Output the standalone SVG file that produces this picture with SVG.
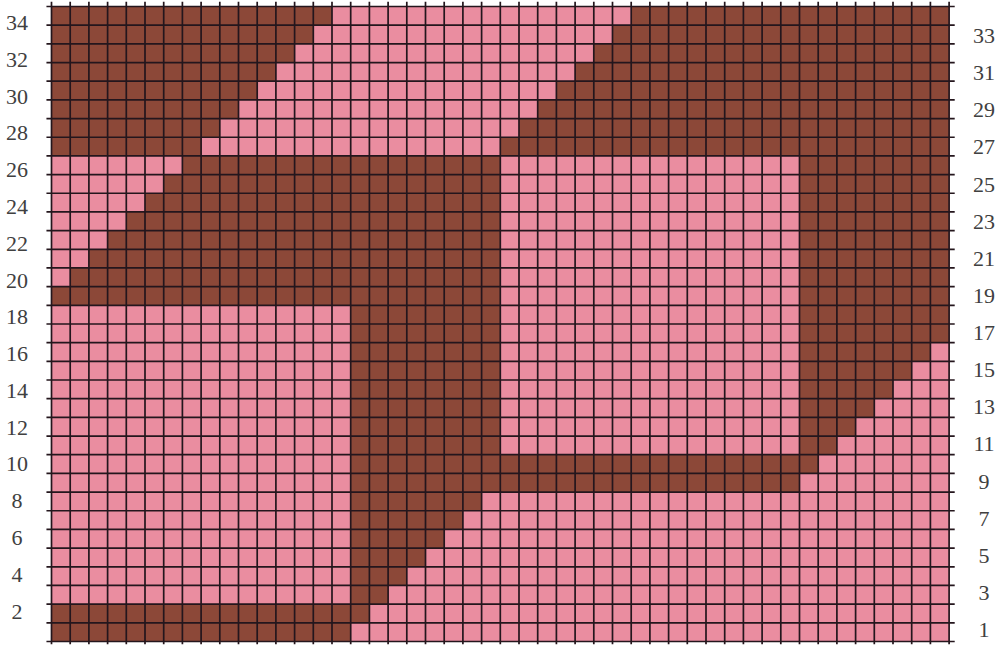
<svg xmlns="http://www.w3.org/2000/svg" width="1000" height="647" viewBox="0 0 1000 647">
<style>
.pink{fill:#EA8DA0}
.dark{fill:#8C4838}
.grid{fill:none;stroke:#24161d;stroke-width:1.7;vector-effect:non-scaling-stroke}
.lbl{font-family:"Liberation Serif","DejaVu Serif",serif;font-size:22px;fill:#404040;text-anchor:middle}
</style>
<rect width="1000" height="647" fill="#ffffff"/>
<g id="chart" transform="translate(51.5,6.5) scale(18.7,18.676)">
<rect id="background" class="pink" x="0" y="0" width="48" height="34"/>
<polygon id="top-left" class="dark" points="0,0 15,0 15,1 14,1 14,2 13,2 13,3 12,3 12,4 11,4 11,5 10,5 10,6 9,6 9,7 8,7 8,8 0,8"/>
<polygon id="middle" class="dark" points="7,8 24,8 24,24 40,24 40,26 23,26 23,27 22,27 22,28 21,28 21,29 20,29 20,30 19,30 19,31 18,31 18,32 17,32 17,33 16,33 16,34 0,34 0,32 16,32 16,16 0,16 0,15 1,15 1,14 2,14 2,13 3,13 3,12 4,12 4,11 5,11 5,10 6,10 6,9 7,9"/>
<polygon id="top-right" class="dark" points="31,0 48,0 48,18 47,18 47,19 46,19 46,20 45,20 45,21 44,21 44,22 43,22 43,23 42,23 42,24 41,24 41,25 40,25 40,8 24,8 24,7 25,7 25,6 26,6 26,5 27,5 27,4 28,4 28,3 29,3 29,2 30,2 30,1 31,1"/>
<path id="grid-v" class="grid" d="M0-.25V34.15M1-.25V34.15M2-.25V34.15M3-.25V34.15M4-.25V34.15M5-.25V34.15M6-.25V34.15M7-.25V34.15M8-.25V34.15M9-.25V34.15M10-.25V34.15M11-.25V34.15M12-.25V34.15M13-.25V34.15M14-.25V34.15M15-.25V34.15M16-.25V34.15M17-.25V34.15M18-.25V34.15M19-.25V34.15M20-.25V34.15M21-.25V34.15M22-.25V34.15M23-.25V34.15M24-.25V34.15M25-.25V34.15M26-.25V34.15M27-.25V34.15M28-.25V34.15M29-.25V34.15M30-.25V34.15M31-.25V34.15M32-.25V34.15M33-.25V34.15M34-.25V34.15M35-.25V34.15M36-.25V34.15M37-.25V34.15M38-.25V34.15M39-.25V34.15M40-.25V34.15M41-.25V34.15M42-.25V34.15M43-.25V34.15M44-.25V34.15M45-.25V34.15M46-.25V34.15M47-.25V34.15M48-.25V34.15"/>
<path id="grid-h" class="grid" d="M-.27 0H48.3M-.27 1H48.3M-.27 2H48.3M-.27 3H48.3M-.27 4H48.3M-.27 5H48.3M-.27 6H48.3M-.27 7H48.3M-.27 8H48.3M-.27 9H48.3M-.27 10H48.3M-.27 11H48.3M-.27 12H48.3M-.27 13H48.3M-.27 14H48.3M-.27 15H48.3M-.27 16H48.3M-.27 17H48.3M-.27 18H48.3M-.27 19H48.3M-.27 20H48.3M-.27 21H48.3M-.27 22H48.3M-.27 23H48.3M-.27 24H48.3M-.27 25H48.3M-.27 26H48.3M-.27 27H48.3M-.27 28H48.3M-.27 29H48.3M-.27 30H48.3M-.27 31H48.3M-.27 32H48.3M-.27 33H48.3M-.27 34H48.3"/>
</g>
<g id="labels-left">
<text class="lbl" x="17" y="30">34</text>
<text class="lbl" x="17" y="66.8">32</text>
<text class="lbl" x="17" y="103.6">30</text>
<text class="lbl" x="17" y="140.4">28</text>
<text class="lbl" x="17" y="177.1">26</text>
<text class="lbl" x="17" y="213.9">24</text>
<text class="lbl" x="17" y="250.7">22</text>
<text class="lbl" x="17" y="287.5">20</text>
<text class="lbl" x="17" y="324.3">18</text>
<text class="lbl" x="17" y="361">16</text>
<text class="lbl" x="17" y="397.8">14</text>
<text class="lbl" x="17" y="434.6">12</text>
<text class="lbl" x="17" y="471.4">10</text>
<text class="lbl" x="17" y="508.2">8</text>
<text class="lbl" x="17" y="544.9">6</text>
<text class="lbl" x="17" y="581.7">4</text>
<text class="lbl" x="17" y="618.5">2</text>
</g>
<g id="labels-right">
<text class="lbl" x="984" y="43.1">33</text>
<text class="lbl" x="984" y="80.2">31</text>
<text class="lbl" x="984" y="117.3">29</text>
<text class="lbl" x="984" y="154.4">27</text>
<text class="lbl" x="984" y="191.6">25</text>
<text class="lbl" x="984" y="228.7">23</text>
<text class="lbl" x="984" y="265.8">21</text>
<text class="lbl" x="984" y="302.9">19</text>
<text class="lbl" x="984" y="340">17</text>
<text class="lbl" x="984" y="377.2">15</text>
<text class="lbl" x="984" y="414.3">13</text>
<text class="lbl" x="984" y="451.4">11</text>
<text class="lbl" x="984" y="488.5">9</text>
<text class="lbl" x="984" y="525.6">7</text>
<text class="lbl" x="984" y="562.8">5</text>
<text class="lbl" x="984" y="599.9">3</text>
<text class="lbl" x="984" y="637">1</text>
</g>
</svg>
